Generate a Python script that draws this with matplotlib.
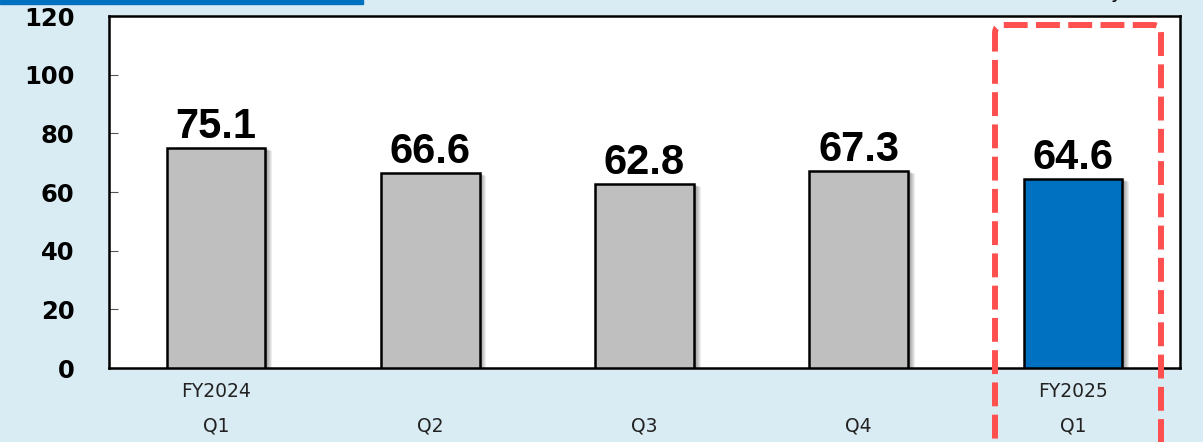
import matplotlib.pyplot as plt
import matplotlib.patches as mpatches
from matplotlib.transforms import IdentityTransform

# --- Data ---
fy_labels = ["FY2024", "", "", "", "FY2025"]
quarters = ["Q1", "Q2", "Q3", "Q4", "Q1"]
values = [75.1, 66.6, 62.8, 67.3, 64.6]
bar_colors = ["#BFBFBF", "#BFBFBF", "#BFBFBF", "#BFBFBF", "#0070C0"]
y_ticks = [0, 20, 40, 60, 80, 100, 120]

BG = "#DAECF3"
W, H = 1203, 442

fig = plt.figure(figsize=(W / 100, H / 100), dpi=100, facecolor=BG)
ax = fig.add_axes([109 / W, (H - 368) / H, (1180 - 109) / W, (368 - 16) / H])
ax.set_facecolor("white")

x = list(range(len(values)))
width = 0.46

# soft drop shadow to the right of each bar
for k in range(1, 8):
    ax.bar([i + k * 0.0045 for i in x], [v - k * 0.15 for v in values], width=width,
           color="black", alpha=0.07, linewidth=0, zorder=1)

ax.bar(x, values, width=width, color=bar_colors, edgecolor="black",
       linewidth=1.8, zorder=3)

for i, v in zip(x, values):
    ax.annotate(f"{v:.1f}", (i, v), xytext=(0, 0.5), textcoords="offset points",
                ha="center", va="bottom", fontsize=30, fontweight="bold",
                family="Liberation Sans", zorder=4)

ax.set_xlim(-0.5, 4.5)
ax.set_ylim(0, 120)
ax.set_yticks(y_ticks)
ax.set_yticklabels([str(t) for t in y_ticks], fontsize=17.5, fontweight="bold")
ax.tick_params(axis="y", direction="in", length=6.5, width=0.8, color="#555555", pad=25)

ax.set_xticks(x)
ax.set_xticklabels([f"{a}\n{b}" for a, b in zip(fy_labels, quarters)],
                   fontsize=13.5, linespacing=2.05, color="#222222")
ax.tick_params(axis="x", length=0, pad=10)

for s in ax.spines.values():
    s.set_linewidth(1.8)
    s.set_color("black")

# blue strip across the top-left edge
fig.add_artist(mpatches.Rectangle((0, 1 - 3.5 / H), 363 / W, 3.5 / H,
                                  transform=fig.transFigure, color="#0070C0"))

# descender of the caption running off the top right
fig.text(1110 / W, 1 + 1.5 / H, "y", fontsize=14, va="baseline", color="black")

# dashed highlight around the latest quarter
box = mpatches.FancyBboxPatch((995, -40), 1161 - 995, (H - 25) + 40,
                              boxstyle="round,pad=0,rounding_size=8",
                              transform=IdentityTransform(), fill=False,
                              edgecolor="#FF5050", linewidth=4.3,
                              linestyle=(0, (4.0, 1.4)), zorder=10)
fig.add_artist(box)

fig.savefig("out.png", dpi=100, facecolor=BG)
